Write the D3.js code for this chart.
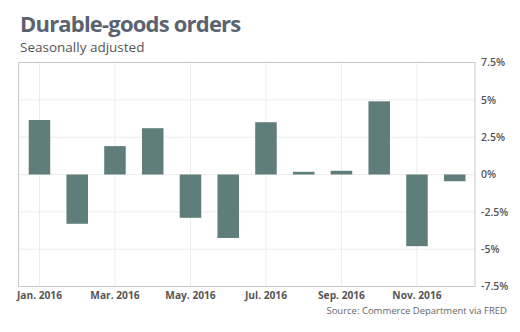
<!DOCTYPE html>
<html lang="en">
<head>
<meta charset="UTF-8">
<style>
    body { margin: 0; background: #fff; }
    svg text { font-family: "Open Sans", sans-serif; }
</style>
</head>
<body>
<svg width="520" height="332"></svg>
<script src="https://d3js.org/d3.v7.min.js"></script>
<script>

// monthly change in durable-goods orders, 2016 (%)
var months = ["Jan", "Feb", "Mar", "Apr", "May", "Jun", "Jul", "Aug", "Sep", "Oct", "Nov", "Dec"];
var changes = [3.65, -3.3, 1.9, 3.1, -2.9, -4.25, 3.5, 0.18, 0.25, 4.9, -4.8, -0.45];
var monthLabels = ["Jan. 2016", "Mar. 2016", "May. 2016", "Jul. 2016", "Sep. 2016", "Nov. 2016"];
var yTicks = [7.5, 5, 2.5, 0, -2.5, -5, -7.5];

var svg = d3.select("svg");

var plot = {left: 18.5, right: 475, top: 62.5, bottom: 286.5};

var x = d3.scaleBand()
    .domain(months)
    .range([20.6, 473.6])
    .paddingInner(0.43)
    .paddingOuter(0.215);

var y = d3.scaleLinear()
    .domain([-7.5, 7.5])
    .range([plot.bottom, plot.top]);

// title
svg.append("text")
    .attr("x", 20)
    .attr("y", 32)
    .attr("fill", "#5b6270")
    .style("font-size", "22px")
    .style("font-weight", "700")
    .style("letter-spacing", "-0.8px")
    .text("Durable-goods orders");

svg.append("text")
    .attr("x", 20)
    .attr("y", 51.5)
    .attr("fill", "#555")
    .style("font-size", "13.5px")
    .text("Seasonally adjusted");

// grid
var grid = svg.append("g");
grid.selectAll(".hgrid")
    .data(yTicks.filter(function(d) { return Math.abs(d) < 7.5; }))
    .enter().append("line")
    .attr("x1", plot.left).attr("x2", plot.right)
    .attr("y1", function(d) { return y(d); })
    .attr("y2", function(d) { return y(d); })
    .attr("stroke", "#ececec");

grid.selectAll(".vgrid")
    .data(months.filter(function(d, i) { return i % 2 === 0; }))
    .enter().append("line")
    .attr("x1", function(d) { return x(d) + x.bandwidth() / 2; })
    .attr("x2", function(d) { return x(d) + x.bandwidth() / 2; })
    .attr("y1", plot.top).attr("y2", plot.bottom)
    .attr("stroke", "#ececec");

// bars
svg.selectAll(".bar")
    .data(changes)
    .enter().append("rect")
    .attr("class", "bar")
    .attr("x", function(d, i) { return x(months[i]); })
    .attr("width", x.bandwidth())
    .attr("y", function(d) { return y(Math.max(0, d)); })
    .attr("height", function(d) { return Math.abs(y(d) - y(0)); })
    .attr("fill", "#5f7e7b");

// frame
svg.append("rect")
    .attr("x", plot.left).attr("y", plot.top)
    .attr("width", plot.right - plot.left)
    .attr("height", plot.bottom - plot.top)
    .attr("fill", "none")
    .attr("stroke", "#c8c8c8");

// y axis on the right
var yAxis = d3.axisRight(y)
    .tickValues(yTicks)
    .tickSize(0)
    .tickPadding(6)
    .tickFormat(function(d) { return d + "%"; });

svg.append("g")
    .attr("transform", "translate(" + plot.right + ",0)")
    .call(yAxis)
    .call(function(g) { g.select(".domain").remove(); })
    .selectAll("text")
    .attr("fill", "#555")
    .style("font-size", "10.5px")
    .style("font-weight", "600")
    .style("font-family", "'Open Sans', sans-serif");

// x axis labels every other month
var xAxis = d3.axisBottom(x)
    .tickValues(months.filter(function(d, i) { return i % 2 === 0; }))
    .tickSize(0)
    .tickPadding(5)
    .tickFormat(function(d) { return monthLabels[months.indexOf(d) / 2]; });

svg.append("g")
    .attr("transform", "translate(0," + plot.bottom + ")")
    .call(xAxis)
    .call(function(g) { g.select(".domain").remove(); })
    .selectAll("text")
    .attr("fill", "#555")
    .style("font-size", "10.2px")
    .style("font-weight", "700")
    .style("font-family", "'Open Sans', sans-serif");

svg.append("text")
    .attr("x", 507)
    .attr("y", 314)
    .attr("text-anchor", "end")
    .attr("fill", "#666")
    .style("font-size", "9.5px")
    .text("Source: Commerce Department via FRED");

</script>
</body>
</html>
